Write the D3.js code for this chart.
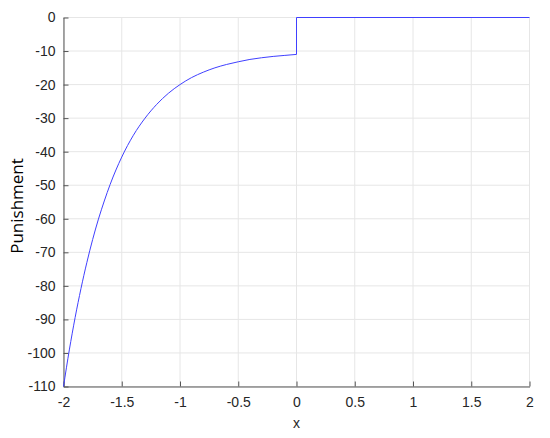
<!DOCTYPE html>
<html><head><meta charset="utf-8">
<script src="https://cdn.jsdelivr.net/npm/d3@7"></script>
<style>body{margin:0;background:#fff}svg{display:block}</style>
</head><body><svg id="c" width="550" height="438"></svg>
<script>
// Curve values (x < 0 branch)
const curveX = [-2, -1.95, -1.9, -1.85, -1.8, -1.75, -1.7, -1.65, -1.6, -1.5, -1.4, -1.3, -1.2, -1.1, -1.0, -0.9, -0.8, -0.7, -0.6, -0.5, -0.4, -0.3, -0.2, -0.1, 0];
const curveY = [-110, -99.1, -89.4, -80.8, -73.1, -66.2, -60.1, -54.7, -49.8, -41.6, -35.1, -30.0, -25.9, -22.6, -20.0, -17.9, -16.3, -15.0, -14.0, -13.2, -12.5, -12.0, -11.6, -11.3, -11.0];
// Step at x = 0 and flat part
const stepX = [0, 0, 2];
const stepY = [-11, 0, 0];
const xTicks = [-2, -1.5, -1, -0.5, 0, 0.5, 1, 1.5, 2];
const yTicks = [0, -10, -20, -30, -40, -50, -60, -70, -80, -90, -100, -110];

const svg = d3.select("#c");
const L = 63.5, R = 529.5, T = 17.5, B = 386.5;
const x = d3.scaleLinear().domain([-2, 2]).range([L, R]);
const y = d3.scaleLinear().domain([-110, 0]).range([B, T]);

// grid
svg.append("g").selectAll("line").data(xTicks).join("line")
  .attr("x1", d => x(d)).attr("x2", d => x(d)).attr("y1", T).attr("y2", B)
  .attr("stroke", "#e6e6e6").attr("stroke-width", 1);
svg.append("g").selectAll("line").data(yTicks).join("line")
  .attr("y1", d => y(d)).attr("y2", d => y(d)).attr("x1", L).attr("x2", R)
  .attr("stroke", "#e6e6e6").attr("stroke-width", 1);

const fmt = d => String(d);
const xAxis = svg.append("g").attr("transform", `translate(0,${B})`)
  .call(d3.axisBottom(x).tickValues(xTicks).tickFormat(fmt).tickSizeInner(-5).tickSizeOuter(0).tickPadding(11));
const yAxis = svg.append("g").attr("transform", `translate(${L},0)`)
  .call(d3.axisLeft(y).tickValues(yTicks).tickFormat(fmt).tickSizeInner(-5).tickSizeOuter(0).tickPadding(8));
[xAxis, yAxis].forEach(g => {
  g.select(".domain").attr("stroke", "#555");
  g.selectAll(".tick line").attr("stroke", "#555");
  g.selectAll("text").attr("fill", "#262626").style("font-family", "'Liberation Sans', Arial, sans-serif").style("font-size", "14px");
});

// data lines
const line = d3.line().x(d => x(d[0])).y(d => y(d[1]));
svg.append("path").datum(curveX.map((v, i) => [v, curveY[i]]))
  .attr("d", line.curve(d3.curveMonotoneX)).attr("fill", "none").attr("stroke", "#4040ff").attr("stroke-width", 1);
svg.append("path").datum(stepX.map((v, i) => [v, stepY[i]]))
  .attr("d", d3.line().x(d => x(d[0])).y(d => y(d[1]))).attr("fill", "none").attr("stroke", "#4040ff").attr("stroke-width", 1);

// labels
svg.append("text").attr("x", x(0)).attr("y", 428).attr("text-anchor", "middle")
  .style("font-family", "'Liberation Sans', Arial, sans-serif").style("font-size", "14px").attr("fill", "#262626").text("x");
svg.append("text").attr("transform", `translate(22.5,206) rotate(-90)`).attr("text-anchor", "middle")
  .style("font-family", "'Open Sans', sans-serif").style("font-size", "17px").attr("fill", "#000").text("Punishment");
</script></body></html>
